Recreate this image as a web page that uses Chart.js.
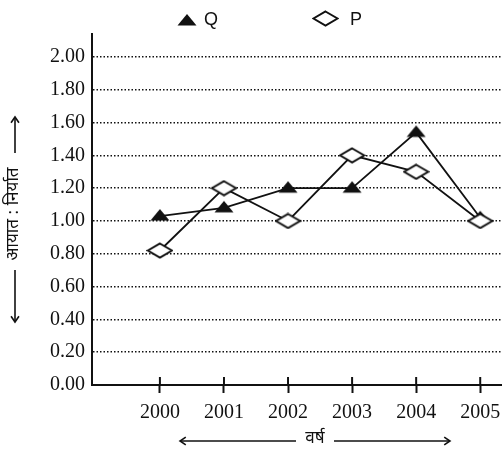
<!DOCTYPE html>
<html><head><meta charset="utf-8">
<script src="https://cdn.jsdelivr.net/npm/chart.js@4"></script>
<style>html,body{margin:0;padding:0;background:#fff}#wrap{width:502px;height:450px}</style>
</head><body><div id="wrap"><canvas id="c" width="502" height="450"></canvas></div>
<script>
const years = [2000, 2001, 2002, 2003, 2004, 2005];
const seriesQ = [1.03, 1.08, 1.20, 1.20, 1.54, 1.02];
const seriesP = [0.82, 1.20, 1.00, 1.40, 1.30, 1.00];
const yTickValues = [0.00, 0.20, 0.40, 0.60, 0.80, 1.00, 1.20, 1.40, 1.60, 1.80, 2.00];
const seriesNames = ['Q', 'P'];
const yTitle = 'आयात : निर्यात';
const xTitle = 'वर्ष';

const INK = '#111';
const devFont = "'Noto Sans Devanagari','Lohit Devanagari','Noto Sans','FreeSans',sans-serif";

function makeTriangle() {
  const c = document.createElement('canvas'); c.width = 20; c.height = 18;
  const g = c.getContext('2d'); g.fillStyle = INK;
  g.beginPath(); g.moveTo(10, 2); g.lineTo(19.5, 13.5); g.lineTo(0.5, 13.5); g.closePath(); g.fill();
  return c;
}
function makeDiamond() {
  const c = document.createElement('canvas'); c.width = 27; c.height = 17;
  const g = c.getContext('2d');
  g.beginPath(); g.moveTo(13.5, 1.5); g.lineTo(25.5, 8.5); g.lineTo(13.5, 15.5); g.lineTo(1.5, 8.5); g.closePath();
  g.fillStyle = '#fff'; g.fill(); g.lineWidth = 2; g.strokeStyle = INK; g.stroke();
  return c;
}
const triImg = makeTriangle();
const diaImg = makeDiamond();

function arrow(ctx, x1, y1, x2, y2) {
  const a = Math.atan2(y2 - y1, x2 - x1), h = 7;
  ctx.beginPath(); ctx.moveTo(x1, y1); ctx.lineTo(x2, y2); ctx.stroke();
  ctx.beginPath();
  ctx.moveTo(x2 - h * Math.cos(a - 0.6), y2 - h * Math.sin(a - 0.6));
  ctx.lineTo(x2, y2);
  ctx.lineTo(x2 - h * Math.cos(a + 0.6), y2 - h * Math.sin(a + 0.6));
  ctx.stroke();
}

const decor = {
  id: 'decor',
  beforeDraw(chart) {
    const ctx = chart.ctx; ctx.save(); ctx.fillStyle = '#fff'; ctx.fillRect(0, 0, chart.width, chart.height); ctx.restore();
  },
  afterDraw(chart) {
    const {ctx, chartArea, scales: {x}} = chart;
    ctx.save();
    ctx.strokeStyle = INK; ctx.fillStyle = INK; ctx.lineWidth = 2;
    years.forEach(v => {
      const px = x.getPixelForValue(v);
      ctx.beginPath(); ctx.moveTo(px, chartArea.bottom - 8); ctx.lineTo(px, chartArea.bottom); ctx.stroke();
    });
    // legend
    ctx.drawImage(triImg, 177, 12);
    ctx.drawImage(diaImg, 312, 10);
    ctx.font = "18px 'Liberation Sans', Arial, sans-serif";
    ctx.textAlign = 'left'; ctx.textBaseline = 'alphabetic';
    ctx.fillText(seriesNames[0], 204, 25);
    ctx.fillText(seriesNames[1], 350, 25);
    // y title
    ctx.lineWidth = 1.6;
    arrow(ctx, 15, 153, 15, 117);
    arrow(ctx, 15, 270, 15, 322);
    ctx.save();
    ctx.translate(15, 214); ctx.rotate(-Math.PI / 2);
    ctx.font = '17px ' + devFont; ctx.textAlign = 'center'; ctx.textBaseline = 'middle';
    ctx.fillText(yTitle, 0, 0);
    ctx.restore();
    // x title
    arrow(ctx, 296, 441, 180, 441);
    arrow(ctx, 334, 441, 450, 441);
    ctx.font = '17px ' + devFont; ctx.textAlign = 'center'; ctx.textBaseline = 'middle';
    ctx.fillText(xTitle, 315, 440);
    ctx.restore();
  }
};

new Chart(document.getElementById('c'), {
  type: 'line',
  data: {
    datasets: [
      {
        label: seriesNames[0], order: 1,
        data: years.map((y, i) => ({x: y, y: seriesQ[i]})),
        borderColor: INK, borderWidth: 1.8, pointStyle: triImg, pointRadius: 8, fill: false, tension: 0
      },
      {
        label: seriesNames[1], order: 0,
        data: years.map((y, i) => ({x: y, y: seriesP[i]})),
        borderColor: INK, borderWidth: 1.8, pointStyle: diaImg, pointRadius: 8, fill: false, tension: 0
      }
    ]
  },
  options: {
    responsive: false, animation: false,
    layout: {autoPadding: false, padding: {top: 34, right: 0, bottom: 0, left: 0}},
    plugins: {legend: {display: false}, tooltip: {enabled: false}},
    scales: {
      x: {
        type: 'linear', min: 1998.94, max: 2005.34,
        afterBuildTicks: s => { s.ticks = years.map(v => ({value: v})); },
        afterFit: s => { s.height = 65; s.paddingLeft = 0; s.paddingRight = 0; },
        grid: {drawOnChartArea: false, drawTicks: true, tickLength: 8, tickWidth: 2, tickColor: INK},
        border: {color: INK, width: 2},
        ticks: {color: INK, font: {family: "'Liberation Serif', 'Times New Roman', serif", size: 20}, padding: 8,
                callback: v => String(v), maxRotation: 0, autoSkip: false}
      },
      y: {
        min: 0, max: 2.14,
        afterBuildTicks: s => { s.ticks = yTickValues.map(v => ({value: v})); },
        afterFit: s => { s.width = 92; s.paddingTop = 0; s.paddingBottom = 0; },
        grid: {color: c => (c.tick && c.tick.value === 0) ? 'rgba(0,0,0,0)' : INK, lineWidth: 1.5, drawTicks: false},
        border: {color: INK, width: 2, dash: [1.5, 2]},
        ticks: {color: INK, font: {family: "'Liberation Serif', 'Times New Roman', serif", size: 20}, padding: 7,
                callback: v => Number(v).toFixed(2)}
      }
    }
  },
  plugins: [decor]
});
</script>
</body></html>
